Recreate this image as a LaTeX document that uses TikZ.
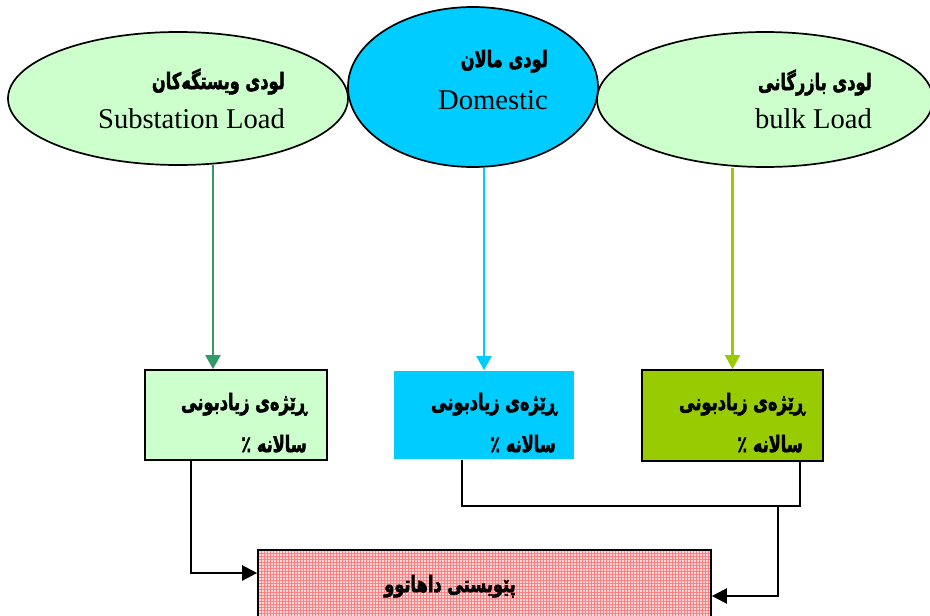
\documentclass[tikz,border=0pt]{standalone}
\usepackage{fontspec}
\usepackage{graphicx}
\setmainfont{Liberation Serif}
\newfontfamily\kurd[Script=Arabic, FakeBold=2.5]{DejaVu Sans Bold}
\TeXXeTstate=1
\newcommand{\kr}[1]{\scalebox{0.72}[1]{\beginR #1\endR}}
\usetikzlibrary{shapes.geometric,arrows.meta,patterns}
\definecolor{lgreen}{HTML}{CCFFCC}
\definecolor{skyb}{HTML}{00CCFF}
\definecolor{lime}{HTML}{99CC00}
\definecolor{seag}{HTML}{339966}
\definecolor{pinkf}{HTML}{FFD9D9}
\tikzset{
  ell/.style={ellipse, draw=black, line width=1.7pt, inner sep=0pt},
  kt/.style={font=\kurd\fontsize{22.5}{24}\selectfont, anchor=base east, inner sep=0pt},
  lt/.style={font=\fontsize{28.6}{30}\selectfont, anchor=base east, inner sep=0pt},
  boxn/.style={rectangle, inner sep=0pt, line width=1.7pt},
  carrow/.style={line width=2.2pt, -{Triangle[length=14pt,width=15pt]}},
  barrow/.style={line width=2.4pt, -{Triangle[length=15pt,width=15pt]}},
  bline/.style={line width=2.4pt}
}
\begin{document}
\begin{tikzpicture}[x=1pt,y=-1pt]
\useasboundingbox (0,0) rectangle (930,616);
\clip (0,0) rectangle (930,616);
% ellipses
\node[ell, fill=lgreen, minimum width=340pt, minimum height=133pt] (e1) at (178,98.5) {};
\node[ell, fill=lgreen, minimum width=336pt, minimum height=135pt] (e3) at (765,99.5) {};
\node[ell, fill=skyb, minimum width=250pt, minimum height=160pt] (e2) at (473,87) {};
% ellipse texts
\node[kt] (k1) at (285,89) {\kr{لودی ویستگەکان}};
\node[lt] (l1) at (285,128) {Substation Load};
\node[kt] (k2) at (548,67) {\kr{لودی مالان}};
\node[lt] (l2) at (548,109) {Domestic};
\node[kt] (k3) at (872,90) {\kr{لودی بازرگانی}};
\node[lt] (l3) at (872,128) {bulk Load};
% boxes
\node[boxn, draw=black, fill=lgreen, minimum width=182pt, minimum height=90pt] (b1) at (236,415) {};
\node[boxn, fill=skyb, minimum width=180pt, minimum height=88pt] (b2) at (484,415) {};
\node[boxn, draw=black, fill=lime, minimum width=181pt, minimum height=91pt] (b3) at (732.5,415.5) {};
\node[kt] (r1a) at (307,410) {\kr{ڕێژەی زیادبونی}};
\node[kt] (r1b) at (307,452) {\kr{سالانە ٪}};
\node[kt] (r2a) at (557,410) {\kr{ڕێژەی زیادبونی}};
\node[kt] (r2b) at (556,452) {\kr{سالانە ٪}};
\node[kt] (r3a) at (805,410) {\kr{ڕێژەی زیادبونی}};
\node[kt] (r3b) at (803,452) {\kr{سالانە ٪}};
% bottom box
\node[boxn, draw=black, preaction={fill=pinkf}, pattern=grid, pattern color=red!50, minimum width=453pt, minimum height=90pt] (p) at (484.5,595) {};
\node[kt] (pt) at (516,592) {\kr{پێویستی داهاتوو}};
% connectors from ellipses
\coordinate (a1) at (213,165);
\draw[carrow, seag] (a1) -- (a1 |- b1.north);
\draw[carrow, skyb] (b2.north |- e2.south) -- (b2.north);
\draw[carrow, lime] (b3.north |- e3.south) -- (b3.north);
% connectors to bottom
\coordinate (j1) at (191,573);
\coordinate (j2) at (462,506);
\coordinate (j3) at (800,506);
\coordinate (j4) at (778,596);
\draw[barrow] (b1.south -| j1) -- (j1) -- (j1 -| p.west);
\draw[bline] (b2.south -| j2) -- (j2) -- (j3) -- (b3.south -| j3);
\draw[barrow] (j4 |- j2) -- (j4) -- (j4 -| p.east);
\end{tikzpicture}
\end{document}
